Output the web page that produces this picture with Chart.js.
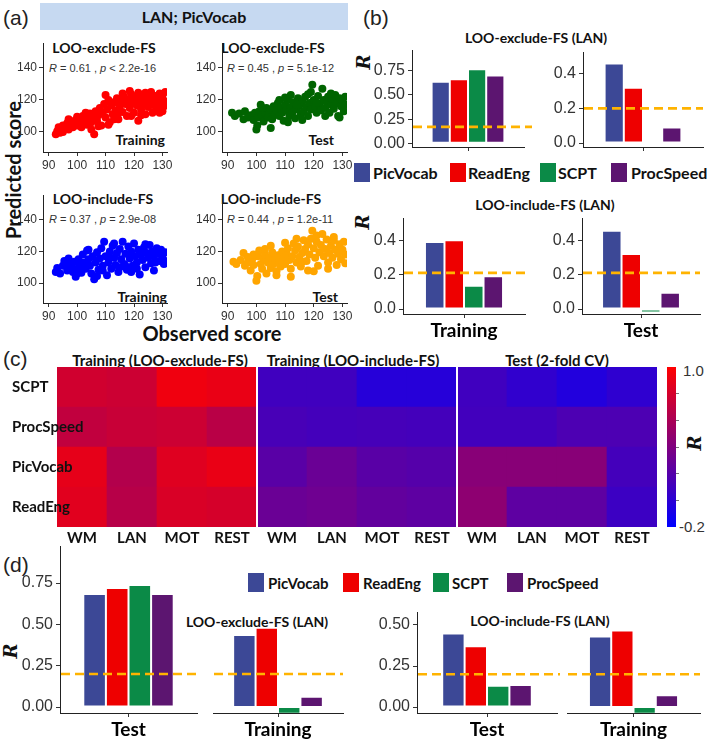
<!DOCTYPE html>
<html lang="en">
<head>
<meta charset="UTF-8" />
<title>LAN; PicVocab prediction</title>
<script src="https://cdn.jsdelivr.net/npm/chart.js@4"></script>
<style>
  body { margin: 0; background: #fff; }
  #fig { position: relative; width: 709px; height: 740px; overflow: hidden; }
  #fig canvas { position: absolute; }
  .t { position: absolute; white-space: nowrap; line-height: 1; }
  .b { font-family: 'Lato', sans-serif; font-weight: 700; color: #111; }
  .c { transform: translate(-50%, -50%); }
  .l { transform: translate(0, -50%); }
  .r { transform: translate(-100%, -50%); }
  .panel { font-family: 'Liberation Sans', Arial, sans-serif; font-size: 21px; color: #222; }
  .stat { font-family: 'Liberation Sans', Arial, sans-serif; font-size: 11px; color: #333; }
  .rlab { font-family: 'DejaVu Serif', serif; font-style: italic; font-weight: 700; font-size: 18px; color: #111;
          transform: translate(-50%, -50%) rotate(-90deg); }
  .vlab { transform: translate(-50%, -50%) rotate(-90deg); }
  .key { position: absolute; width: 16px; height: 19px; }
  .cbtick { position: absolute; left: 676px; width: 3px; height: 1px; background: #777; }
  #header { position: absolute; left: 40px; top: 3px; width: 308px; height: 27px; background: #c6d9f1;
            text-align: center; line-height: 27px; font-size: 16px; }
  #cbar { position: absolute; left: 667px; top: 367px; width: 9px; height: 160px;
          background: linear-gradient(to bottom, rgb(255,0,0), rgb(0,0,255)); }
</style>
</head>
<body>
<div id="fig">
  <div id="header" class="b">LAN; PicVocab</div>
  <div class="t panel l" style="left:3px; top:17px">(a)</div>
  <div class="t panel l" style="left:363px; top:17px">(b)</div>
  <div class="t panel l" style="left:3px; top:358px">(c)</div>
  <div class="t panel l" style="left:3px; top:564px">(d)</div>

  <!-- panel (a) annotations -->
  <div class="t b c" style="left:104px; top:48px; font-size:14px">LOO-exclude-FS</div>
  <div class="t stat l" style="left:49px; top:68px"><i>R</i> = 0.61 , <i>p</i> &lt; 2.2e-16</div>
  <div class="t b r" style="left:165px; top:140px; font-size:14px">Training</div>
  <div class="t b c" style="left:273px; top:48px; font-size:14px">LOO-exclude-FS</div>
  <div class="t stat l" style="left:227px; top:68px"><i>R</i> = 0.45 , <i>p</i> = 5.1e-12</div>
  <div class="t b r" style="left:334px; top:140px; font-size:14px">Test</div>
  <div class="t b c" style="left:103px; top:199px; font-size:14px">LOO-include-FS</div>
  <div class="t stat l" style="left:49px; top:219px"><i>R</i> = 0.37 , <i>p</i> = 2.9e-08</div>
  <div class="t b r" style="left:167px; top:297px; font-size:14px">Training</div>
  <div class="t b c" style="left:271px; top:199px; font-size:14px">LOO-include-FS</div>
  <div class="t stat l" style="left:227px; top:219px"><i>R</i> = 0.44 , <i>p</i> = 1.2e-11</div>
  <div class="t b r" style="left:338px; top:297px; font-size:14px">Test</div>
  <div class="t b vlab" style="left:13px; top:170px; font-size:20px">Predicted score</div>
  <div class="t b c" style="left:212px; top:333px; font-size:20px">Observed score</div>

  <!-- panel (b) annotations -->
  <div class="t b c" style="left:536px; top:38px; font-size:14px">LOO-exclude-FS (LAN)</div>
  <div class="t b c" style="left:545px; top:205px; font-size:14px">LOO-include-FS (LAN)</div>
  <div class="t rlab" style="left:364px; top:62px">R</div>
  <div class="t rlab" style="left:363px; top:222px">R</div>
  <div id="legendB"></div>

  <!-- panel (c) annotations -->
  <div class="t b c" style="left:160px; top:360px; font-size:15px">Training (LOO-exclude-FS)</div>
  <div class="t b c" style="left:353px; top:360px; font-size:15px">Training (LOO-include-FS)</div>
  <div class="t b c" style="left:557px; top:360px; font-size:15px">Test (2-fold CV)</div>
  <div id="cbar"></div>
  <div class="cbtick" style="top:393px"></div>
  <div class="cbtick" style="top:420px"></div>
  <div class="cbtick" style="top:447px"></div>
  <div class="cbtick" style="top:473px"></div>
  <div class="cbtick" style="top:500px"></div>
  <div class="t stat l" style="left:683px; top:370px; font-size:15px">1.0</div>
  <div class="t stat l" style="left:679px; top:526px; font-size:15px">-0.2</div>
  <div class="t rlab" style="left:695px; top:443px">R</div>

  <!-- panel (d) annotations -->
  <div class="t b c" style="left:257px; top:622px; font-size:14px">LOO-exclude-FS (LAN)</div>
  <div class="t b c" style="left:540px; top:621px; font-size:14px">LOO-include-FS (LAN)</div>
  <div class="t rlab" style="left:11px; top:651px">R</div>
  <div id="legendD"></div>
</div>

<script>
  // ---- data ----
  const measures = ['PicVocab', 'ReadEng', 'SCPT', 'ProcSpeed'];
  const measureColors = ['#3c4896', '#ee0000', '#0b8a47', '#5c1570'];
  const cutColor = '#ffb300';

  // panel (a): observed vs predicted score, [observed, predicted]
  const obsRange = [88, 131.6];
  const predRange = [87.5, 155.5];
  const trainExcludePts = [
    [92.5,98.5],[93,100.5],[93.5,103],[94,99.5],[94.5,102],[95,104],[96,103.5],[96.5,105.5],[97,101.5],[97.5,104],
    [98,106.5],[98.5,103],[99,105],[99.5,107.5],[100,104],[100.5,106],[101,108.5],[101.5,103],[102,105.5],[102.5,107],
    [103,110],[103.5,104.5],[104,108],[104.5,111.5],[105,106],[105.5,109],[106,98.5],[106.5,113],[107,107],[107.5,110.5],
    [108,115],[108.5,104],[109,112],[109.5,117.5],[110,109],[110.5,114],[111,120],[111.5,106],[112,116.5],[112.5,111],
    [113,118.5],[113.5,113.5],[114,121],[114.5,108],[115,116],[115.5,119.5],[116,112.5],[116.5,122],[117,117.5],[117.5,110],
    [118,120],[118.5,115],[119,123.5],[119.5,118],[120,112],[120.5,121],[121,116.5],[121.5,107],[122,119],[122.5,114],
    [123,122],[123.5,117],[124,111],[124.5,120],[125,115.5],[125.5,123],[126,118],[126.5,112],[127,121],[127.5,116],
    [128,119.5],[128.5,114],[129,124],[129.5,118],[130,121.5],[130.5,116],[131,125],[131,119],[103,112],[105,101.5],
    [107.5,103.5],[110,123],[113,108],[116,124],[118.5,125.5],[121.5,124.5],[126,125],[129,112],[111,104.5],[114.5,112],
    [119,110],[122.5,110.5],[124,124.5],[127.5,122.5],[130,113],[100,109.5],[97,108],[95,100],[102,110]
  ];
  const testExcludePts = [
    [91.5,112],[92.5,110],[94,111.5],[95.5,108],[96,113],[97,109],[98,110.5],[99,107.5],[99.5,112],[100,101.5],
    [100.3,104],[100.5,109],[101,113],[101.5,117],[102,110.5],[102.5,106.5],[103,112],[103.5,115],[104,109],[104.5,111.5],
    [105,114],[105.5,108],[106,116],[106.5,111],[107,113.5],[107.5,118],[108,110],[108.5,115],[109,112],[109.5,107],
    [110,117],[110.5,113.5],[111,120],[111.5,110],[112,115.5],[112.5,112],[113,118.5],[113.5,108.5],[114,114],[114.5,121],
    [115,116.5],[115.5,111],[116,119],[116.5,113],[117,122],[117.5,115.5],[118,110],[118.5,118],[119,114],[119.5,129.5],
    [120,120],[120.5,116],[121,112],[121.5,122.5],[122,117.5],[122.5,113.5],[123,127],[123.5,120],[124,115],[124.5,118.5],
    [125,122],[125.5,112],[126,117],[126.5,120.5],[127,114.5],[127.5,123],[128,118],[128.5,110],[129,121],[129.5,116],
    [130,119.5],[130.5,113],[131,122],[131,117],[129,109],[126,124],[119,125],[112,123],[116,107.5],[108,120],
    [105,102.5],[111,106],[124,110],[102,115],[114,117],[121,118],[118,123.5],[110,121.5]
  ];
  const trainIncludePts = [
    [92.5,107],[93,109.5],[94,106],[95,111],[95.5,114],[96.5,108],[97,112],[98,110],[98.5,107],[99,113.5],
    [99.5,104],[100,109],[100.5,115],[101,111],[101.5,106.5],[102,118],[102.5,113],[103,109],[103.5,120.5],[104,115],
    [104.5,111],[105,106],[105.5,117],[106,102.5],[106.5,113],[107,119.5],[107.5,108.5],[108,115.5],[108.5,122],[109,111],
    [109.5,126],[110,117],[110.5,105],[111,113],[111.5,120],[112,109],[112.5,123.5],[113,116],[113.5,111.5],[114,119],
    [114.5,107],[115,121.5],[115.5,115],[116,126],[116.5,112],[117,118.5],[117.5,108.5],[118,123],[118.5,115.5],[119,120],
    [119.5,111],[120,125],[120.5,117],[121,113],[121.5,121],[122,105.5],[122.5,118],[123,114.5],[123.5,122.5],[124,110],
    [124.5,119],[125,116],[125.5,124],[126,112.5],[126.5,120],[127,117],[127.5,113],[128,122],[128.5,118.5],[129,114],
    [129.5,121],[130,116.5],[130.5,112],[131,119.5],[131,114],[107,104.5],[113,125],[119,107],[124,124.5],[104,121],
    [100,106],[97,115.5],[117,111],[111,116],[127,108],[121,109],[115,110],[109,108]
  ];
  const testIncludePts = [
    [92,113.5],[93,112],[94.5,114.5],[95.5,119],[96,111],[97,113],[98,108],[98.5,115],[99,111.5],[100,101.5],
    [100.3,104.5],[100.5,117],[101,120.5],[101.5,112],[102,109],[102.5,115.5],[103,118],[103.5,106],[104,113],[104.5,116],
    [105,109.5],[105.5,119.5],[106,112],[106.5,115],[107,107.5],[107.5,117.5],[108,113.5],[108.5,110.5],[109,120],[109.5,116],
    [110,112],[110.5,118.5],[111,122],[111.5,114.5],[112,109],[112.5,117],[113,125],[113.5,120.5],[114,113],[114.5,123],
    [115,116.5],[115.5,110.5],[116,119],[116.5,127],[117,121.5],[117.5,114],[118,124.5],[118.5,118],[119,128],[119.5,133],
    [120,122],[120.5,116],[121,126],[121.5,111],[122,119.5],[122.5,124],[123,131],[123.5,117],[124,121.5],[124.5,127.5],
    [125,113],[125.5,119],[126,123.5],[126.5,116],[127,127],[127.5,121],[128,111.5],[128.5,118.5],[129,124.5],[129.5,115],
    [130,121],[130.5,126],[131,118],[131,112.5],[107,105],[112,104],[118,108],[125,109],[110,125.5],[114,128],
    [121,130],[103,121.5],[99,118],[116,113.5],[127,129],[105,123.5],[120,107.5],[97,116.5]
  ];

  // panel (b): R per measure, order = measures
  const bExcludeTrain = [0.636, 0.661, 0.764, 0.70];
  const bExcludeTest = [0.46, 0.32, -0.008, 0.09];
  const bIncludeTrain = [0.39, 0.40, 0.135, 0.19];
  const bIncludeTest = [0.455, 0.32, -0.02, 0.095];
  const bCutoffs = [0.17, 0.20, 0.21, 0.21];

  // panel (c): heatmap rows (top to bottom) x columns
  const heatRows = ['SCPT', 'ProcSpeed', 'PicVocab', 'ReadEng'];
  const heatCols = ['WM', 'LAN', 'MOT', 'REST'];
  const heatTrainExclude = [
    [0.78, 0.76, 0.93, 0.90],
    [0.71, 0.74, 0.76, 0.67],
    [0.88, 0.64, 0.85, 0.90],
    [0.86, 0.66, 0.82, 0.80]
  ];
  const heatTrainInclude = [
    [0.10, 0.10, -0.02, -0.02],
    [0.14, 0.12, 0.13, 0.12],
    [0.22, 0.30, 0.22, 0.20],
    [0.30, 0.32, 0.26, 0.24]
  ];
  const heatTest = [
    [0.10, 0.03, -0.04, 0.02],
    [0.11, 0.11, 0.16, 0.16],
    [0.44, 0.44, 0.44, 0.12],
    [0.47, 0.24, 0.24, 0.08]
  ];
  const heatRange = [-0.2, 1.0];

  // panel (d)
  const dExcludeTest = [0.683, 0.72, 0.738, 0.683];
  const dExcludeTrain = [0.435, 0.48, -0.04, 0.062];
  const dIncludeTest = [0.448, 0.37, 0.13, 0.135];
  const dIncludeTrain = [0.43, 0.467, -0.04, 0.072];
  const dCutoff = 0.20;

  // ---- helpers ----
  Chart.defaults.animation = false;
  Chart.defaults.font.family = "'Liberation Sans', Arial, sans-serif";
  Chart.defaults.plugins.legend.display = false;
  Chart.defaults.plugins.tooltip.enabled = false;

  const fig = document.getElementById('fig');

  function addCanvas(b) {
    const c = document.createElement('canvas');
    c.width = b.w; c.height = b.h;
    c.style.left = b.left + 'px'; c.style.top = b.top + 'px';
    c.style.width = b.w + 'px'; c.style.height = b.h + 'px';
    fig.appendChild(c);
    return c.getContext('2d');
  }
  function fixY(w) { return s => { s.width = w; s.paddingTop = 0; s.paddingBottom = 0; }; }
  function fixX(h) { return s => { s.height = h; s.paddingLeft = 0; s.paddingRight = 0; }; }

  const axisGrid = { display: true, drawOnChartArea: false, drawTicks: true, tickLength: 4, color: '#333', offset: false };
  const axisBorder = { display: true, color: '#222', width: 1 };
  const tickFont = { family: "'Liberation Sans', Arial, sans-serif", size: 16 };

  // dashed significance cut-off, placed with the chart's own y scale
  const cutoffLine = {
    id: 'cutoffLine',
    afterDatasetsDraw(chart, args, opts) {
      const { ctx, chartArea, scales: { y } } = chart;
      const py = y.getPixelForValue(opts.value);
      ctx.save();
      ctx.strokeStyle = cutColor;
      ctx.lineWidth = 2.6;
      ctx.setLineDash([9, 5]);
      ctx.beginPath();
      ctx.moveTo(chartArea.left + 1, py);
      ctx.lineTo(chartArea.right + (opts.extend || 0), py);
      ctx.stroke();
      ctx.restore();
    }
  };

  function scatterPanel(b, pts, color) {
    new Chart(addCanvas(b), {
      type: 'scatter',
      data: { datasets: [{ data: pts.map(p => ({ x: p[0], y: p[1] })), backgroundColor: color, borderWidth: 0, pointRadius: 4 }] },
      options: {
        responsive: false,
        layout: { padding: { top: b.pt, right: b.pr } },
        scales: {
          x: { min: obsRange[0], max: obsRange[1], grid: axisGrid, border: axisBorder, afterFit: fixX(b.xh),
               ticks: { stepSize: 10, includeBounds: false, padding: 2, color: '#333', font: { size: 12 } } },
          y: { min: predRange[0], max: predRange[1], grid: axisGrid, border: axisBorder, afterFit: fixY(b.yw),
               ticks: { stepSize: 20, includeBounds: false, padding: 2, color: '#333', font: { size: 12 } } }
        }
      }
    });
  }

  function barPanel(b, label, values, cutoff, yr) {
    const datasets = measures.map((m, i) => ({
      label: m, data: [values[i]], backgroundColor: measureColors[i],
      borderColor: 'rgba(255,255,255,0.7)', borderWidth: 1, borderSkipped: false,
      categoryPercentage: b.cat, barPercentage: 1
    }));
    new Chart(addCanvas(b), {
      type: 'bar',
      data: { labels: [label], datasets },
      options: {
        responsive: false,
        layout: { padding: { top: b.pt, right: b.pr } },
        plugins: { cutoffLine: { value: cutoff, extend: b.ext || 0 } },
        scales: {
          x: { grid: axisGrid, border: axisBorder, afterFit: fixX(b.xh),
               ticks: { color: '#000', padding: 1, font: { family: 'Lato', weight: 'bold', size: 19 } } },
          y: { display: b.yw > 0, min: yr.min, max: yr.max, grid: axisGrid, border: axisBorder, afterFit: fixY(b.yw),
               ticks: { stepSize: yr.step, includeBounds: false, padding: 3, color: '#333', font: tickFont,
                        callback: v => v.toFixed(yr.dec) } }
        }
      },
      plugins: [cutoffLine]
    });
  }

  function heatColor(v) {
    const t = Math.min(1, Math.max(0, (v - heatRange[0]) / (heatRange[1] - heatRange[0])));
    return `rgb(${Math.round(255 * t)},0,${Math.round(255 * (1 - t))})`;
  }

  // ---- panel (a) ----
  scatterPanel({ left: 5, top: 35, w: 174, h: 137, yw: 38, xh: 20, pt: 8, pr: 12 }, trainExcludePts, '#ff0000');
  scatterPanel({ left: 185, top: 35, w: 172, h: 137, yw: 37, xh: 20, pt: 8, pr: 10 }, testExcludePts, '#006400');
  scatterPanel({ left: 5, top: 187, w: 174, h: 136, yw: 38, xh: 20, pt: 8, pr: 12 }, trainIncludePts, '#0000ff');
  scatterPanel({ left: 185, top: 187, w: 172, h: 136, yw: 37, xh: 20, pt: 8, pr: 10 }, testIncludePts, '#ffa500');

  // ---- panel (b) ----
  const yB1 = { min: -0.038, max: 0.964, step: 0.25, dec: 2 };
  const yB2 = { min: -0.023, max: 0.526, step: 0.1, dec: 1 };
  const yB3 = { min: -0.029, max: 0.529, step: 0.1, dec: 1 };
  barPanel({ left: 370, top: 45, w: 166, h: 108, yw: 42, xh: 6, pt: 5, pr: 12, cat: 0.65, ext: 8 }, '', bExcludeTrain, bCutoffs[0], yB1);
  barPanel({ left: 545, top: 45, w: 162, h: 108, yw: 38, xh: 6, pt: 7, pr: 4, cat: 0.64 }, '', bExcludeTest, bCutoffs[1], yB2);
  barPanel({ left: 365, top: 213, w: 164, h: 129, yw: 38, xh: 28, pt: 5, pr: 4, cat: 0.64 }, 'Training', bIncludeTrain, bCutoffs[2], yB3);
  barPanel({ left: 544, top: 213, w: 162, h: 129, yw: 38, xh: 28, pt: 5, pr: 6, cat: 0.66 }, 'Test', bIncludeTest, bCutoffs[3], yB3);

  // ---- panel (c) ----
  const heatGroups = [heatTrainExclude, heatTrainInclude, heatTest];
  const heatLabels = heatGroups.flatMap(() => heatCols);
  const rowsBottomUp = heatRows.slice().reverse();
  const heatDatasets = rowsBottomUp.map((row, k) => {
    const r = heatRows.indexOf(row);
    const vals = heatGroups.flatMap(g => g[r]);
    return {
      label: row, data: vals.map(() => [k, k + 1]),
      backgroundColor: vals.map(heatColor), borderWidth: 0,
      categoryPercentage: 1, barPercentage: 1, grouped: false
    };
  });
  const groupGaps = {
    id: 'groupGaps',
    afterDatasetsDraw(chart) {
      const { ctx, scales: { x }, chartArea } = chart;
      ctx.save();
      ctx.fillStyle = '#fff';
      [3.5, 7.5].forEach(v => {
        const px = x.getPixelForValue(v);
        ctx.fillRect(px - 1, chartArea.top, 2, chartArea.bottom - chartArea.top);
      });
      ctx.restore();
    }
  };
  new Chart(addCanvas({ left: 12, top: 362, w: 649, h: 189 }), {
    type: 'bar',
    data: { labels: heatLabels, datasets: heatDatasets },
    options: {
      responsive: false,
      layout: { padding: { top: 5, right: 4 } },
      scales: {
        x: { grid: { display: false }, border: { display: false }, afterFit: fixX(24),
             ticks: { color: '#111', padding: -6, autoSkip: false, maxRotation: 0, font: { family: 'Lato', weight: 'bold', size: 15 } } },
        // row names sit over the first column, as in the figure
        y: { min: 0, max: heatRows.length, grid: { display: false }, border: { display: false }, afterFit: fixY(45),
             afterBuildTicks: s => { s.ticks = rowsBottomUp.map((_, i) => ({ value: i + 0.5 })); },
             ticks: { z: 1, mirror: true, padding: -45, color: '#111', font: { family: 'Lato', weight: 'bold', size: 15 },
                      callback: v => rowsBottomUp[Math.floor(v)] } }
      }
    },
    plugins: [groupGaps]
  });

  // ---- panel (d) ----
  const yD1 = { min: -0.036, max: 0.974, step: 0.25, dec: 2 };
  const yD2 = { min: -0.036, max: 0.579, step: 0.25, dec: 2 };
  barPanel({ left: 20, top: 541, w: 180, h: 199, yw: 40, xh: 27, pt: 5, pr: 3, cat: 0.66, ext: 17 }, 'Test', dExcludeTest, dCutoff, yD1);
  barPanel({ left: 213, top: 541, w: 133, h: 199, yw: 0, xh: 27, pt: 5, pr: 3, cat: 0.69 }, 'Training', dExcludeTrain, dCutoff, yD1);
  barPanel({ left: 377, top: 607, w: 183, h: 133, yw: 40, xh: 27, pt: 5, pr: 3, cat: 0.64, ext: 11 }, 'Test', dIncludeTest, dCutoff, yD2);
  barPanel({ left: 567, top: 607, w: 136, h: 133, yw: 0, xh: 27, pt: 5, pr: 3, cat: 0.67 }, 'Training', dIncludeTrain, dCutoff, yD2);

  // ---- legends ----
  function legend(id, items, y, size) {
    const host = document.getElementById(id);
    items.forEach((it, i) => {
      const sq = document.createElement('div');
      sq.className = 'key';
      sq.style.left = it[0] + 'px'; sq.style.top = (y - 10) + 'px';
      sq.style.background = measureColors[i];
      host.appendChild(sq);
      const tx = document.createElement('div');
      tx.className = 't b l';
      tx.style.left = it[1] + 'px'; tx.style.top = y + 'px'; tx.style.fontSize = size + 'px';
      tx.textContent = measures[i];
      host.appendChild(tx);
    });
  }
  legend('legendB', [[354, 373], [450, 468], [540, 558], [611, 631]], 173, 16);
  legend('legendD', [[248, 268], [343, 363], [433, 452], [507, 527]], 583, 15);
</script>
</body>
</html>
